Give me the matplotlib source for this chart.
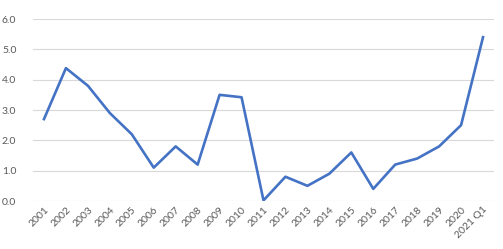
import matplotlib
matplotlib.use('Agg')
from matplotlib import pyplot as plt

years = ['2001', '2002', '2003', '2004', '2005', '2006', '2007', '2008', '2009', '2010',
         '2011', '2012', '2013', '2014', '2015', '2016', '2017', '2018', '2019', '2020', '2021 Q1']
values = [2.7, 4.38, 3.8, 2.9, 2.2, 1.1, 1.8, 1.2, 3.5, 3.42,
          0.02, 0.8, 0.5, 0.9, 1.6, 0.4, 1.2, 1.4, 1.8, 2.5, 5.4]
yticks = [0.0, 1.0, 2.0, 3.0, 4.0, 5.0, 6.0]

plt.rcParams['font.family'] = ['Lato', 'DejaVu Sans']

fig = plt.figure(figsize=(5.03, 2.49), dpi=100)
ax = fig.add_axes([33 / 503, 48 / 249, 461 / 503, 182 / 249])

x = list(range(len(years)))
ax.plot(x, values, c='#4472C4', lw=1.9, solid_joinstyle='round')

ax.set_xlim(-0.5, len(years) - 0.5)
ax.set_ylim(0, 6)
ax.set_yticks(yticks)
ax.set_yticklabels(['%.1f' % v for v in yticks])
ax.set_xticks(x)
ax.set_xticklabels(years, rotation=45, ha='right', rotation_mode='anchor')

ax.grid(True, axis='y', color='#D9D9D9', lw=0.8)
ax.set_axisbelow(True)
for s in ax.spines.values():
    s.set_visible(False)
ax.tick_params(length=0, colors='#595959', labelsize=7.5)
ax.tick_params(axis='y', pad=12)
ax.tick_params(axis='x', pad=3)

fig.savefig('out.png', dpi=100)
